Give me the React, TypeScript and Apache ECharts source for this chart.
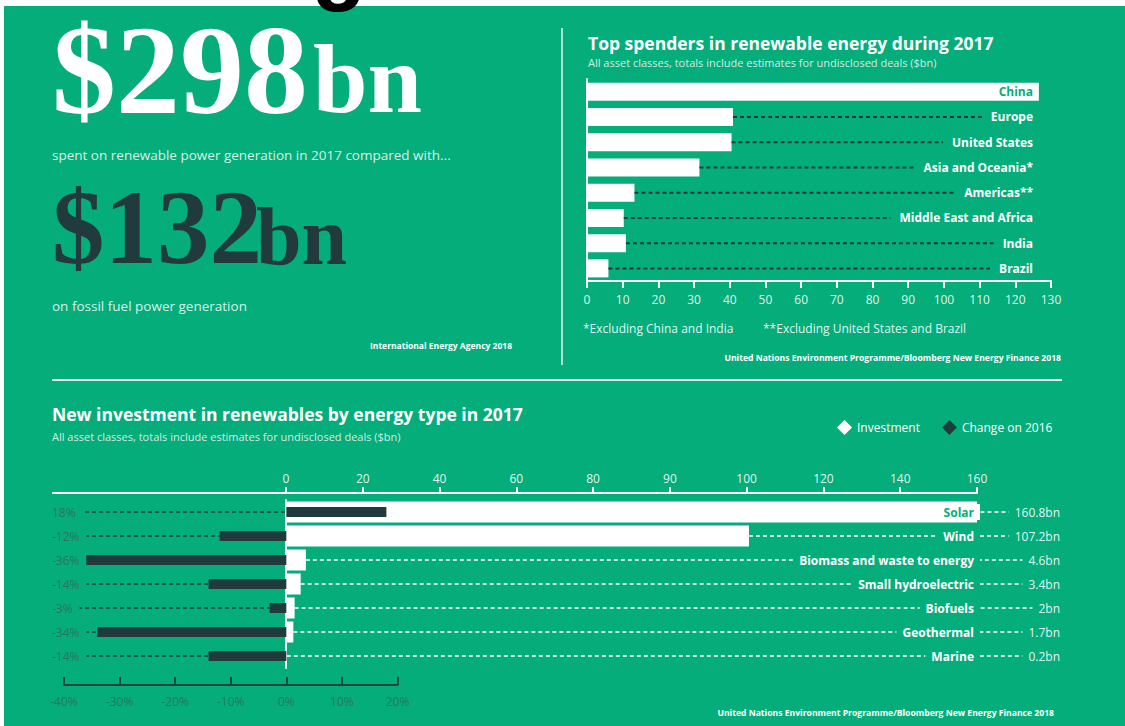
import React, { useEffect, useRef } from 'react';
import * as echarts from 'echarts';

// ---------- data ----------
const topRegions = ['China', 'Europe', 'United States', 'Asia and Oceania*', 'Americas**', 'Middle East and Africa', 'India', 'Brazil'];
const topSpend = [126.6, 40.9, 40.5, 31.5, 13.3, 10.3, 10.9, 6.0];

const energyTypes = ['Solar', 'Wind', 'Biomass and waste to energy', 'Small hydroelectric', 'Biofuels', 'Geothermal', 'Marine'];
const investment = [160.8, 107.2, 4.6, 3.4, 2.0, 1.7, 0.2];
const changeOn2016 = [18, -12, -36, -14, -3, -34, -14];

const investmentTickLabels = ['0', '20', '40', '60', '80', '90', '100', '120', '140', '160'];

// ---------- style ----------
const GREEN = '#05ad7b';
const DARK = '#213a3d';
const WHITE = '#ffffff';
const SOFT = 'rgba(255,255,255,0.9)';
const PCT = '#2a7660';
const SANS = '"Open Sans", "Noto Sans", sans-serif';
const SERIF = '"Liberation Serif", "DejaVu Serif", serif';

const INV_MAX = 160;
const INV_STEP = INV_MAX / (investmentTickLabels.length - 1);

function txt(x: number, y: number, text: string, opts: any = {}) {
  const align = opts.align || 'left';
  const va = opts.verticalAlign || 'middle';
  return {
    type: 'text',
    x,
    y,
    z: opts.z ?? 50,
    style: {
      text,
      fill: opts.fill || WHITE,
      fontSize: opts.fontSize || 12,
      fontFamily: opts.fontFamily || SANS,
      fontWeight: opts.fontWeight || 'normal',
      align,
      textAlign: align,
      verticalAlign: va,
      textVerticalAlign: va,
    },
  };
}

export default function App() {
  const ref = useRef<HTMLDivElement>(null);

  useEffect(() => {
    document.body.style.margin = '0';
    if (!ref.current) return;
    const chart = echarts.init(ref.current, undefined, { renderer: 'svg' });

    const option: any = {
      animation: false,
      backgroundColor: GREEN,
      legend: {
        data: ['Investment', 'Change on 2016'],
        left: 837,
        top: 420,
        padding: 0,
        icon: 'diamond',
        itemWidth: 15,
        itemHeight: 15,
        itemGap: 22,
        textStyle: { color: WHITE, fontSize: 12, fontFamily: SANS },
      },
      grid: [
        { left: 587, top: 79, width: 464, height: 202 },
        { left: 286, top: 500, width: 691, height: 168 },
        { left: 64, top: 500, width: 333.5, height: 168 },
      ],
      xAxis: [
        {
          gridIndex: 0, type: 'value', min: 0, max: 130, interval: 10, position: 'bottom',
          axisLine: { show: true, lineStyle: { color: WHITE, width: 2 } },
          axisTick: { show: true, length: 7, lineStyle: { color: WHITE, width: 2 } },
          axisLabel: { color: SOFT, fontSize: 12, fontFamily: SANS, margin: 12 },
          splitLine: { show: false },
        },
        {
          gridIndex: 1, type: 'value', min: 0, max: INV_MAX, interval: INV_STEP, position: 'top', offset: 7,
          axisLine: { show: true, lineStyle: { color: WHITE, width: 2 } },
          axisTick: { show: true, length: 6, lineStyle: { color: WHITE, width: 2 } },
          axisLabel: {
            color: SOFT, fontSize: 12, fontFamily: SANS, margin: 9,
            formatter: (v: number) => investmentTickLabels[Math.round(v / INV_STEP)] ?? '',
          },
          splitLine: { show: false },
        },
        {
          gridIndex: 2, type: 'value', min: -40, max: 20, interval: 10, position: 'bottom', offset: 17,
          axisLine: { show: true, onZero: false, lineStyle: { color: '#1f4742', width: 2 } },
          axisTick: { show: true, inside: true, length: 8, lineStyle: { color: '#1f4742', width: 2 } },
          axisLabel: { color: PCT, fontSize: 12, fontFamily: SANS, margin: 10, formatter: (v: number) => `${v}%` },
          splitLine: { show: false },
        },
      ],
      yAxis: [
        {
          gridIndex: 0, type: 'category', data: topRegions, inverse: true,
          axisLine: { show: true, lineStyle: { color: WHITE, width: 2 } },
          axisTick: { show: false }, axisLabel: { show: false },
        },
        {
          gridIndex: 1, type: 'category', data: energyTypes, inverse: true,
          axisLine: { show: true, lineStyle: { color: WHITE, width: 2 } },
          axisTick: { show: false }, axisLabel: { show: false },
        },
        {
          gridIndex: 2, type: 'category', data: energyTypes, inverse: true, show: false,
        },
      ],
      series: [
        {
          name: 'Top spenders', type: 'bar', xAxisIndex: 0, yAxisIndex: 0,
          data: topSpend, barWidth: 18, itemStyle: { color: WHITE }, z: 2,
        },
        {
          name: 'topLabels', type: 'custom', xAxisIndex: 0, yAxisIndex: 0, z: 3,
          data: topSpend.map((v, i) => [v, i]),
          encode: { x: 0, y: 1 },
          renderItem: (params: any, api: any) => {
            const v = api.value(0);
            const idx = api.value(1);
            const p = api.coord([v, idx]);
            const end = api.coord([130, idx]);
            const labelRight = end[0] - 18;
            const y = p[1];
            const inside = p[0] >= labelRight - 5;
            const children: any[] = [];
            if (!inside) {
              children.push({
                type: 'line',
                shape: { x1: p[0], y1: y, x2: labelRight, y2: y },
                style: { stroke: DARK, lineWidth: 2, lineDash: [4, 3] },
              });
            }
            children.push({
              type: 'text', x: labelRight, y,
              style: {
                text: topRegions[idx], fill: inside ? GREEN : WHITE,
                fontSize: 12, fontFamily: SANS, fontWeight: 'bold',
                align: 'right', textAlign: 'right', verticalAlign: 'middle', textVerticalAlign: 'middle',
                backgroundColor: inside ? 'transparent' : GREEN, padding: [2, 0, 2, 9],
              },
            });
            return { type: 'group', children };
          },
        },
        {
          name: 'Investment', type: 'bar', xAxisIndex: 1, yAxisIndex: 1,
          data: investment, barWidth: 21, itemStyle: { color: WHITE }, z: 2,
        },
        {
          name: 'invLabels', type: 'custom', xAxisIndex: 1, yAxisIndex: 1, z: 3,
          data: investment.map((v, i) => [v, i]),
          encode: { x: 0, y: 1 },
          renderItem: (params: any, api: any) => {
            const v = api.value(0);
            const idx = api.value(1);
            const p = api.coord([v, idx]);
            const end = api.coord([INV_MAX, idx]);
            const catRight = end[0] + 3;
            const valueRight = end[0] + 83;
            const y = p[1];
            const inside = p[0] >= catRight - 8;
            return {
              type: 'group',
              children: [
                {
                  type: 'line',
                  shape: { x1: p[0], y1: y, x2: valueRight - 2, y2: y },
                  style: { stroke: WHITE, lineWidth: 1.5, lineDash: [4, 3] },
                },
                {
                  type: 'text', x: catRight, y,
                  style: {
                    text: energyTypes[idx], fill: inside ? GREEN : WHITE,
                    fontSize: 12, fontFamily: SANS, fontWeight: 'bold',
                    align: 'right', textAlign: 'right', verticalAlign: 'middle', textVerticalAlign: 'middle',
                    backgroundColor: inside ? WHITE : GREEN, padding: [2, 6, 2, 6],
                  },
                },
                {
                  type: 'text', x: valueRight, y,
                  style: {
                    text: `${investment[idx]}bn`, fill: SOFT,
                    fontSize: 12, fontFamily: SANS,
                    align: 'right', textAlign: 'right', verticalAlign: 'middle', textVerticalAlign: 'middle',
                    backgroundColor: GREEN, padding: [2, 0, 2, 6],
                  },
                },
              ],
            };
          },
        },
        {
          name: 'Change on 2016', type: 'bar', xAxisIndex: 2, yAxisIndex: 2,
          data: changeOn2016, barWidth: 10, itemStyle: { color: DARK }, z: 2,
        },
        {
          name: 'chgLabels', type: 'custom', xAxisIndex: 2, yAxisIndex: 2, z: 1,
          data: changeOn2016.map((v, i) => [v, i]),
          encode: { x: 0, y: 1 },
          renderItem: (params: any, api: any) => {
            const v = api.value(0);
            const idx = api.value(1);
            const p = api.coord([Math.min(v, 0), idx]);
            const start = api.coord([-40, idx]);
            const y = p[1];
            return {
              type: 'group',
              children: [
                {
                  type: 'line',
                  shape: { x1: start[0], y1: y, x2: p[0], y2: y },
                  style: { stroke: DARK, lineWidth: 1.5, lineDash: [4, 3] },
                },
                {
                  type: 'text', x: start[0] - 12, y,
                  style: {
                    text: `${changeOn2016[idx]}%`, fill: PCT,
                    fontSize: 12, fontFamily: SANS,
                    align: 'left', textAlign: 'left', verticalAlign: 'middle', textVerticalAlign: 'middle',
                    backgroundColor: GREEN, padding: [2, 7, 2, 0],
                  },
                },
              ],
            };
          },
        },
      ],
      graphic: {
        elements: [
          // page framing
          { type: 'rect', z: 100, shape: { x: 0, y: 0, width: 1125, height: 6 }, style: { fill: WHITE } },
          { type: 'rect', z: 100, shape: { x: 0, y: 0, width: 4, height: 726 }, style: { fill: WHITE } },
          txt(339, -38, 'g', { fontSize: 90, fontFamily: '"Liberation Sans", sans-serif', fontWeight: 'bold', fill: '#000', align: 'center', z: 101 }),

          // headline numbers
          txt(52, 70, '$298', { fontSize: 128, fontFamily: SERIF, fontWeight: 'bold' }),
          txt(313, 79, 'bn', { fontSize: 98, fontFamily: SERIF, fontWeight: 'bold' }),
          txt(52, 155, 'spent on renewable power generation in 2017 compared with...', { fontSize: 13.5, fill: 'rgba(255,255,255,0.85)' }),
          txt(52, 227, '$132', { fontSize: 105, fontFamily: SERIF, fontWeight: 'bold', fill: DARK }),
          txt(256, 236, 'bn', { fontSize: 82, fontFamily: SERIF, fontWeight: 'bold', fill: DARK }),
          txt(52, 306, 'on fossil fuel power generation', { fontSize: 13.5, fill: 'rgba(255,255,255,0.85)' }),
          txt(512, 345, 'International Energy Agency 2018', { fontSize: 8.5, fontWeight: 'bold', align: 'right' }),

          // dividers
          { type: 'line', z: 50, shape: { x1: 562, y1: 28, x2: 562, y2: 365 }, style: { stroke: 'rgba(255,255,255,0.9)', lineWidth: 1.5 } },
          { type: 'line', z: 50, shape: { x1: 52, y1: 380, x2: 1062, y2: 380 }, style: { stroke: 'rgba(255,255,255,0.9)', lineWidth: 2 } },

          // top-right chart texts
          txt(588, 43, 'Top spenders in renewable energy during 2017', { fontSize: 17.5, fontWeight: 'bold' }),
          txt(588, 62, 'All asset classes, totals include estimates for undisclosed deals ($bn)', { fontSize: 11, fill: 'rgba(255,255,255,0.8)' }),
          txt(583, 328, '*Excluding China and India', { fontSize: 12, fill: SOFT }),
          txt(763, 328, '**Excluding United States and Brazil', { fontSize: 12, fill: SOFT }),
          txt(1061, 358, 'United Nations Environment Programme/Bloomberg New Energy Finance 2018', { fontSize: 8.6, fontWeight: 'bold', align: 'right' }),

          // bottom chart texts
          txt(52, 414, 'New investment in renewables by energy type in 2017', { fontSize: 17.5, fontWeight: 'bold' }),
          txt(52, 436, 'All asset classes, totals include estimates for undisclosed deals ($bn)', { fontSize: 11, fill: 'rgba(255,255,255,0.8)' }),
          { type: 'line', z: 50, shape: { x1: 52, y1: 493, x2: 287, y2: 493 }, style: { stroke: WHITE, lineWidth: 2 } },
          txt(1054, 713, 'United Nations Environment Programme/Bloomberg New Energy Finance 2018', { fontSize: 8.6, fontWeight: 'bold', align: 'right' }),
        ],
      },
    };

    chart.setOption(option);
    return () => chart.dispose();
  }, []);

  return <div ref={ref} style={{ position: 'absolute', left: 0, top: 0, width: 1125, height: 726 }} />;
}
